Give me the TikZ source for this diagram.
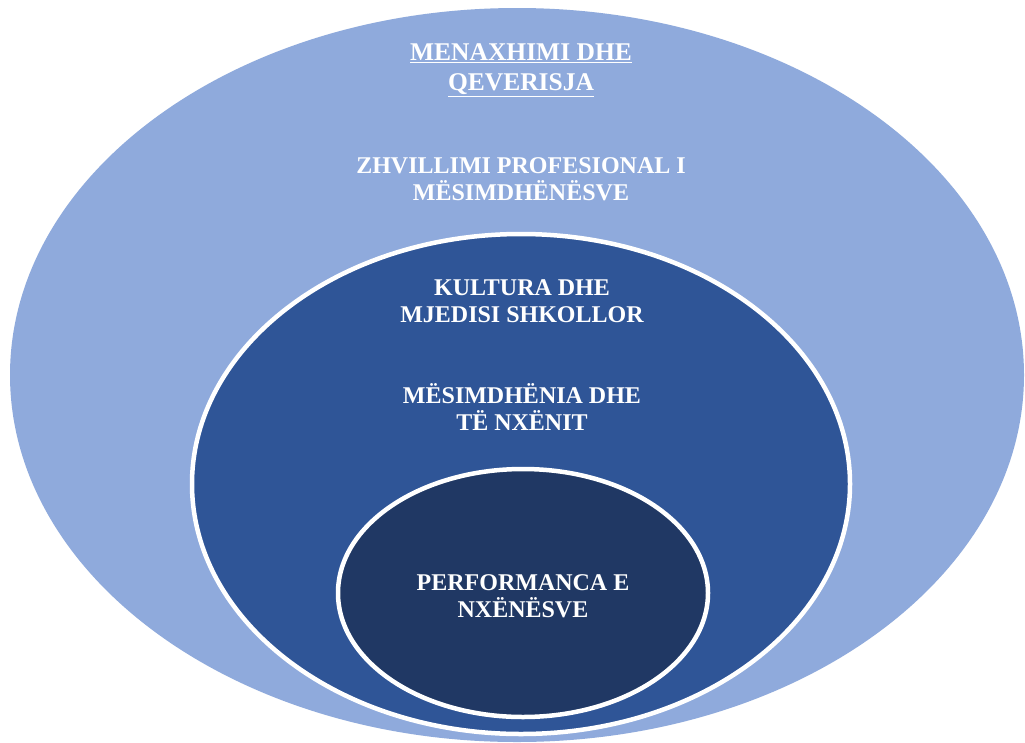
\documentclass[tikz,border=0pt]{standalone}
\usepackage{fontspec}
\setmainfont{Liberation Serif}
\definecolor{outerblue}{HTML}{8FAADC}
\definecolor{midblue}{HTML}{2F5597}
\definecolor{innerblue}{HTML}{203864}
\begin{document}
\begin{tikzpicture}[x=1pt,y=-1pt,
  ring/.style={draw=white,line width=4.5pt},
  lbl/.style={text=white,font=\bfseries\fontsize{24}{26.5}\selectfont,align=center,inner sep=0pt}]
\useasboundingbox (0,0) rectangle (1025,742);
\fill[white] (0,0) rectangle (1025,742);
\path[fill=outerblue] (517,375) ellipse [x radius=507, y radius=367];
\path[ring,fill=midblue] (521,484) ellipse [x radius=329, y radius=250];
\path[ring,fill=innerblue] (523,593) ellipse [x radius=185, y radius=124];
\node[lbl,font=\bfseries\fontsize{25.5}{30}\selectfont] (gov) at (521,70) {\underline{MENAXHIMI DHE}\\\underline{QEVERISJA}};
\node[lbl] (prof) at (521,179) {ZHVILLIMI PROFESIONAL I\\MËSIMDHËNËSVE};
\node[lbl] (cult) at (522,301) {KULTURA DHE\\MJEDISI SHKOLLOR};
\node[lbl] (teach) at (522,407) {MËSIMDHËNIA DHE\\TË NXËNIT};
\node[lbl] (perf) at (523,596) {PERFORMANCA E\\NXËNËSVE};
\end{tikzpicture}
\end{document}
